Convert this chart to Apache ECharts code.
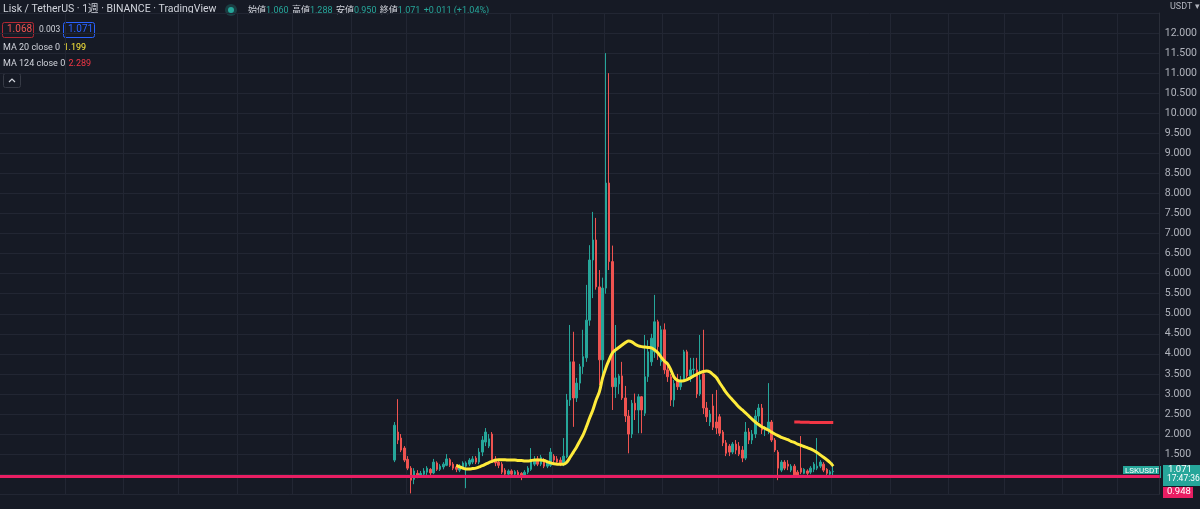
<!DOCTYPE html>
<html><head><meta charset="utf-8">
<script src="https://cdn.jsdelivr.net/npm/echarts@6/dist/echarts.min.js"></script>
<style>html,body{margin:0;padding:0;background:#161a25;}#c{width:1200px;height:509px;}</style>
</head><body><div id="c"></div>
<script>
// weekly candles, LSK/USDT
const opens  = [1.35,2.05,1.90,1.65,1.37,1.15,0.87,1.02,0.97,1.00,1.05,1.12,1.03,1.28,1.12,1.18,1.22,1.36,1.25,1.18,
 1.10,1.18,1.20,1.25,1.30,1.40,1.30,1.55,1.80,1.70,2.00,1.38,1.30,1.25,1.10,1.00,1.08,1.00,1.05,1.02,
 0.97,1.05,1.12,1.25,1.38,1.25,1.35,1.20,1.22,1.45,1.38,1.35,1.25,1.43,2.85,3.80,2.90,3.27,3.68,3.90,
 4.84,6.34,6.84,5.67,3.85,5.64,8.26,6.30,3.18,3.25,3.45,2.90,2.45,2.00,2.77,2.60,2.93,2.52,3.43,3.80,
 4.05,4.80,3.80,4.60,3.60,3.43,2.85,3.35,3.18,3.35,4.05,3.45,3.60,3.60,3.00,3.50,2.65,2.30,2.70,2.30,
 2.43,2.05,1.78,1.70,1.55,1.75,1.70,1.60,1.40,2.05,1.85,2.00,2.45,2.65,2.10,2.10,2.30,1.85,1.55,1.10,
 1.30,1.25,1.10,1.20,1.05,1.15,1.02,1.08,1.05,1.12,1.15,1.20,1.25,1.12,1.00,1.06];
const closes = [2.22,1.85,1.60,1.35,1.15,0.85,1.08,0.97,1.02,1.08,1.15,1.03,1.30,1.12,1.20,1.25,1.38,1.22,1.15,1.12,
 1.20,1.28,1.28,1.35,1.38,1.30,1.55,1.85,2.05,1.88,1.35,1.28,1.22,1.05,1.00,1.08,1.00,1.06,0.98,0.95,
 1.05,1.15,1.35,1.35,1.25,1.42,1.20,1.28,1.55,1.35,1.30,1.25,1.45,2.85,3.80,2.90,3.27,3.68,3.93,4.84,
 6.34,6.84,5.67,3.85,5.64,8.26,6.30,3.18,3.40,3.45,2.90,2.45,2.00,2.77,2.60,2.93,2.60,3.43,4.05,4.39,
 4.80,4.18,4.60,3.60,3.43,2.85,3.26,3.18,3.35,4.05,3.45,3.60,3.62,3.00,3.35,2.65,2.43,2.50,2.17,2.15,
 2.02,1.78,1.52,1.55,1.75,1.60,1.50,1.40,2.05,1.85,2.00,2.45,2.65,2.10,2.15,2.30,1.85,1.60,1.15,1.30,
 1.15,1.20,1.20,0.98,0.97,1.05,1.12,1.02,1.15,1.25,1.20,1.30,1.10,1.02,1.06,1.071];
const lows   = [1.30,1.75,1.55,1.30,1.10,0.52,0.75,0.90,0.92,0.95,0.98,0.98,1.00,1.08,1.08,1.12,1.20,1.18,1.10,1.05,
 1.05,1.12,0.65,1.20,1.25,1.25,1.25,1.45,1.70,1.65,1.30,1.20,1.15,1.00,0.98,0.95,0.95,0.97,0.95,0.85,
 0.93,1.00,1.08,1.20,1.20,1.20,1.15,1.15,1.18,1.28,1.25,1.20,1.20,1.40,2.70,2.18,2.80,3.10,3.50,3.80,
 4.70,5.39,5.60,3.22,3.40,5.50,6.09,2.60,2.90,3.00,2.85,2.30,1.52,1.90,2.35,2.02,2.02,2.45,3.30,3.70,
 3.90,3.85,3.70,3.50,3.30,2.70,2.68,3.10,3.10,3.30,3.40,3.30,3.40,2.90,2.95,2.50,2.30,2.20,2.10,2.00,
 1.95,1.70,1.45,1.45,1.50,1.50,1.45,1.30,1.35,1.75,1.75,1.90,2.30,2.00,1.95,2.00,1.80,1.55,0.85,1.05,
 1.10,1.10,1.05,0.92,0.95,1.00,1.00,0.98,1.00,1.05,1.10,1.15,1.05,0.98,0.95,0.95];
const highs  = [2.30,2.87,2.00,1.70,1.45,1.20,1.15,1.10,1.08,1.15,1.20,1.15,1.38,1.32,1.25,1.30,1.50,1.40,1.30,1.25,
 1.25,1.32,1.32,1.40,1.45,1.45,1.65,1.95,2.15,2.00,2.05,1.45,1.35,1.30,1.15,1.12,1.12,1.10,1.10,1.05,
 1.10,1.20,1.65,1.45,1.45,1.48,1.40,1.32,1.65,1.50,1.45,1.42,1.90,3.00,4.72,4.55,3.40,3.75,4.60,5.72,
 6.71,7.54,7.39,6.09,5.90,11.50,11.00,6.70,4.72,3.50,3.80,3.20,2.60,2.85,3.01,3.00,2.95,4.47,4.34,4.50,
 5.47,4.85,4.70,4.76,3.70,3.50,3.35,3.50,3.45,4.10,4.10,3.90,3.90,3.90,4.47,4.60,2.80,2.60,3.00,3.10,
 2.50,2.10,1.85,1.75,1.80,1.85,1.80,1.70,2.30,2.15,2.10,2.60,2.75,2.75,2.20,3.27,2.35,1.90,1.60,1.35,
 1.35,1.35,1.25,1.25,1.10,1.95,1.15,1.12,1.20,1.30,1.90,1.35,1.30,1.15,1.10,1.288];
// MA 20 (from candle 19) and MA 124 (from candle 123)
const ma20 = [1.22,1.18,1.15,1.13,1.13,1.14,1.15,1.18,1.21,1.25,1.29,1.32,1.35,1.36,1.36,1.36,1.35,1.35,1.35,1.34,
 1.34,1.33,1.33,1.34,1.35,1.35,1.35,1.34,1.31,1.28,1.26,1.25,1.25,1.25,1.30,1.42,1.55,1.68,1.83,1.98,
 2.18,2.40,2.60,2.85,3.05,3.40,3.65,3.85,4.02,4.10,4.16,4.22,4.28,4.32,4.30,4.24,4.20,4.18,4.17,4.16,
 4.15,4.10,4.03,3.92,3.82,3.75,3.60,3.42,3.34,3.32,3.33,3.36,3.40,3.45,3.49,3.53,3.56,3.57,3.55,3.48,
 3.41,3.28,3.16,3.04,2.94,2.85,2.76,2.67,2.60,2.53,2.45,2.37,2.30,2.24,2.18,2.14,2.10,2.05,2.00,1.96,
 1.92,1.89,1.86,1.82,1.79,1.75,1.72,1.69,1.66,1.63,1.59,1.54,1.48,1.42,1.36,1.29,1.20];
const ma20Start = 19;
const ma124 = [2.300,2.300,2.296,2.294,2.292,2.291,2.290,2.290,2.290,2.290,2.289,2.289,2.289];
const ma124Start = 123;
const supportLevel = 0.948;
const yTicks = {min: 0.5, max: 12.5, step: 0.5};

const LEAD = 121, TOTAL = 357;
const cats = Array.from({length: TOTAL}, (_, i) => 'W' + (i - LEAD));
const candleData = opens.map((o, i) => [LEAD + i, o, closes[i], lows[i], highs[i]]);
const ma20Data = ma20.map((v, i) => [LEAD + ma20Start + i, v]);
const ma124Data = ma124.map((v, i) => [LEAD + ma124Start + i, v]);
const gridLines = [20, 38, 55, 73, 90, 108, 125, 143, 157, 170, 186, 204, 221, 238, 256, 274, 292, 309, 327, 344];

const UP = '#26a69a', DN = '#ef5350';
const chart = echarts.init(document.getElementById('c'), null, {renderer: 'canvas'});
const F = 'Roboto, "Noto Sans CJK JP", sans-serif';
function t(x, y, text, fill, size, extra) {
  return Object.assign({type: 'text', left: x, top: y, style: {text: text, fill: fill, font: (size || 11) + 'px ' + F}}, extra || {});
}
function rich(x, y, text, styles) {
  return {type: 'text', left: x, top: y, style: {text: text, rich: styles}};
}
const S = (c, s) => ({fill: c, font: s + 'px ' + F});
chart.setOption({
  backgroundColor: '#161a25',
  animation: false,
  grid: {left: 0, right: 37, top: 13, bottom: 14.8, containLabel: false},
  xAxis: {
    type: 'category', data: cats, boundaryGap: true,
    axisLine: {show: false}, axisTick: {show: false}, axisLabel: {show: false},
    splitLine: {show: true, interval: (i) => gridLines.includes(i), lineStyle: {color: '#222633', width: 1}}
  },
  yAxis: {
    type: 'value', position: 'right', min: yTicks.min, max: yTicks.max, interval: yTicks.step, scale: false,
    axisLine: {show: true, lineStyle: {color: '#2a2e39'}},
    axisTick: {show: false},
    splitLine: {show: true, lineStyle: {color: '#222633', width: 1}},
    axisLabel: {
      color: '#b2b5be', fontSize: 10.5, fontFamily: F, margin: 5,
      formatter: (v) => (v >= 1.5 && v <= 12) ? v.toFixed(3) : ''
    }
  },
  series: [
    {
      type: 'candlestick', data: candleData, encode: {x: 0, y: [1, 2, 3, 4]},
      barWidth: 2,
      itemStyle: {color: UP, color0: DN, borderColor: UP, borderColor0: DN, borderWidth: 1},
      markLine: {
        silent: true, symbol: 'none', animation: false,
        label: {show: false},
        lineStyle: {color: '#e91e63', width: 3, type: 'solid'},
        data: [{yAxis: supportLevel}]
      }
    },
    {type: 'line', data: ma20Data, showSymbol: false, smooth: 0.3,
     lineStyle: {color: '#ffeb3b', width: 3}, z: 5},
    {type: 'line', data: ma124Data, showSymbol: false, smooth: true,
     lineStyle: {color: '#f23645', width: 3}, z: 5}
  ],
  graphic: [
    t(3, 4, 'Lisk / TetherUS · 1週 · BINANCE · TradingView', '#d1d4dc', 10.5),
    {type: 'circle', shape: {cx: 231, cy: 10, r: 6}, style: {fill: 'rgba(38,166,154,0.25)'}},
    {type: 'circle', shape: {cx: 231, cy: 10, r: 3}, style: {fill: '#26a69a'}},
    rich(248, 5, '{l|始値}{v|1.060} {l|高値}{v|1.288} {l|安値}{v|0.950} {l|終値}{v|1.071} {v|+0.011 (+1.04%)}',
      {l: S('#d1d4dc', 9), v: S('#26a69a', 9)}),
    {type: 'rect', shape: {x: 2.5, y: 22.5, width: 31, height: 15, r: 2}, style: {fill: 'none', stroke: '#b22833', lineWidth: 1}},
    t(7, 24.5, '1.068', '#ef5350', 10),
    t(39, 25.5, '0.003', '#d1d4dc', 8.5),
    {type: 'rect', shape: {x: 63.5, y: 22.5, width: 31, height: 15, r: 2}, style: {fill: 'none', stroke: '#2962ff', lineWidth: 1}},
    t(68, 24.5, '1.071', '#2962ff', 10),
    rich(3, 42, '{l|MA 20 close 0} {v|1.199}', {l: S('#d1d4dc', 9), v: S('#ffeb3b', 9)}),
    rich(3, 58, '{l|MA 124 close 0} {v|2.289}', {l: S('#d1d4dc', 9), v: S('#f23645', 9)}),
    {type: 'rect', shape: {x: 3.5, y: 73.5, width: 17, height: 14, r: 2}, style: {fill: 'none', stroke: '#363a45', lineWidth: 1}},
    {type: 'polyline', shape: {points: [[9, 82], [12, 79], [15, 82]]}, style: {stroke: '#d1d4dc', lineWidth: 1.2, fill: 'none'}},
    t(1170, 2, 'USDT ▾', '#b2b5be', 9),
    {type: 'rect', shape: {x: 1123, y: 466, width: 38, height: 12}, style: {fill: '#26a69a'}},
    t(1125, 467, 'LSKUSDT', '#ffffff', 8),
    {type: 'rect', shape: {x: 1163, y: 465, width: 37, height: 21}, style: {fill: '#26a69a'}},
    t(1168, 465, '1.071', '#ffffff', 9.5),
    t(1167, 474.5, '17:47:36', '#ffffff', 8.5),
    {type: 'rect', shape: {x: 1163, y: 487, width: 30, height: 11}, style: {fill: '#e91e63'}},
    t(1167, 486.5, '0.948', '#ffffff', 9.5)
  ]
});
</script></body></html>
